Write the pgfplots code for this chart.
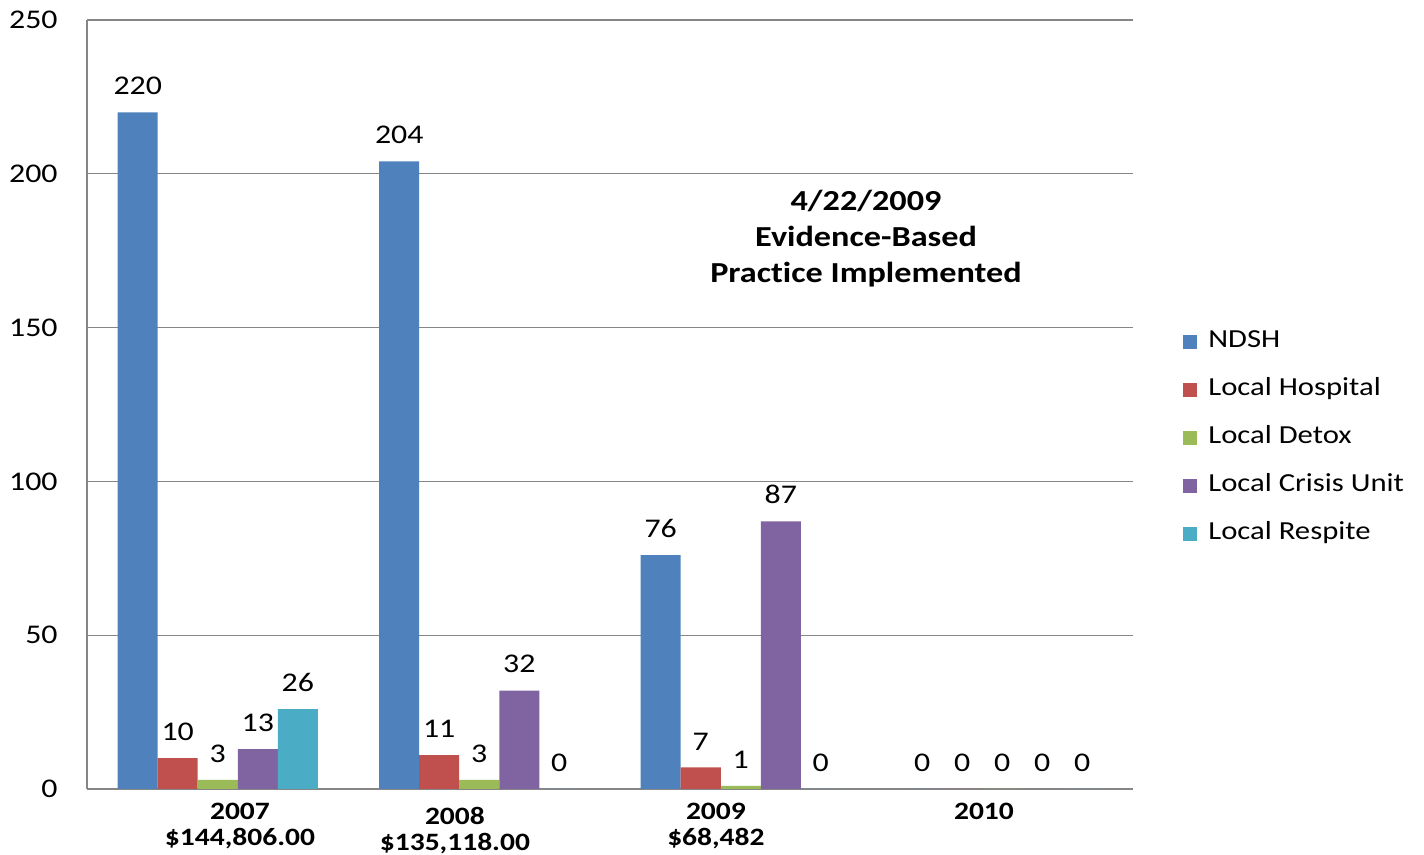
\documentclass[border=0pt]{standalone}
\usepackage{pgfplots}
\pgfplotsset{compat=1.18}
\usepackage{fontspec}
\setmainfont{Carlito}[FakeStretch=1.18, Ligatures=NoCommon]
\definecolor{cNDSH}{HTML}{4F81BD}
\definecolor{cHosp}{HTML}{C0504D}
\definecolor{cDetox}{HTML}{9BBB59}
\definecolor{cCrisis}{HTML}{8064A2}
\definecolor{cResp}{HTML}{4BACC6}
\definecolor{gridgray}{RGB}{134,134,134}
\begin{document}
\begin{tikzpicture}
\begin{axis}[
  scale only axis, width=523pt, height=384.5pt,
  xmin=-0.5, xmax=3.5, ymin=0, ymax=250,
  ybar, bar width=0.153,
  /pgf/number format/assume math mode=true,
  ytick={0,50,100,150,200,250},
  xtick={0.085,1.905,2.930},
  xticklabels={{2007\\\$144{,}806.00},{2009\\\$68{,}482},{2010}},
  extra x ticks={0.907},
  extra x tick labels={{2008\\\$135{,}118.00}},
  extra x tick style={xticklabel style={yshift=-2pt}},
  xticklabel style={align=center, inner sep=0pt, yshift=-7pt, font=\bfseries\fontsize{12.5}{13}\selectfont},
  yticklabel style={inner sep=0pt, xshift=-14.5pt, font=\fontsize{13.5}{14}\selectfont},
  major tick length=0pt,
  axis x line*=bottom, axis y line*=left,
  axis line style={-, draw=gridgray, line width=0.6pt},
  ymajorgrids, xmajorgrids=false, grid style={draw=gridgray, line width=0.6pt},
  nodes near coords,
  every node near coord/.append style={font=\fontsize{13.5}{14}\selectfont, inner sep=0pt, anchor=south, yshift=8.5pt, text=black},
  legend image code/.code={\fill[#1] (0pt,-3.5pt) rectangle (7pt,3.5pt);},
  legend cell align=left,
  legend style={at={(1.0478,0.4564)}, anchor=west, draw=none, fill=none, inner sep=0pt,
    row sep=12.5pt, font=\fontsize{13}{14}\selectfont,
    nodes={inner sep=0pt, text height=8.5pt, text depth=3pt},
    /tikz/every odd column/.append style={column sep=5.5pt}},
]
\coordinate (sw) at (rel axis cs:0,0);
\coordinate (ne) at (rel axis cs:1,1);
\addplot[fill=cNDSH, draw=none, bar shift=-0.306] coordinates {(0,220) (1,204) (2,76) (3,0)};
\addplot[fill=cHosp, draw=none, bar shift=-0.153] coordinates {(0,10) (1,11) (2,7) (3,0)};
\addplot[fill=cDetox, draw=none, bar shift=0] coordinates {(0,3) (1,3) (2,1) (3,0)};
\addplot[fill=cCrisis, draw=none, bar shift=0.153] coordinates {(0,13) (1,32) (2,87) (3,0)};
\addplot[fill=cResp, draw=none, bar shift=0.306] coordinates {(0,26) (1,0) (2,0) (3,0)};
\legend{NDSH, Local Hospital, Local Detox, Local Crisis Unit, Local Respite}
\node[align=center, font=\bfseries\fontsize{14.5}{18}\selectfont] at (axis cs:2.479,178.8) {4/22/2009\\Evidence-Based\\Practice Implemented};
\end{axis}
\path ([xshift=-43.5pt, yshift=-32pt]sw) rectangle ([xshift=145.5pt, yshift=10pt]ne);
\end{tikzpicture}
\end{document}
